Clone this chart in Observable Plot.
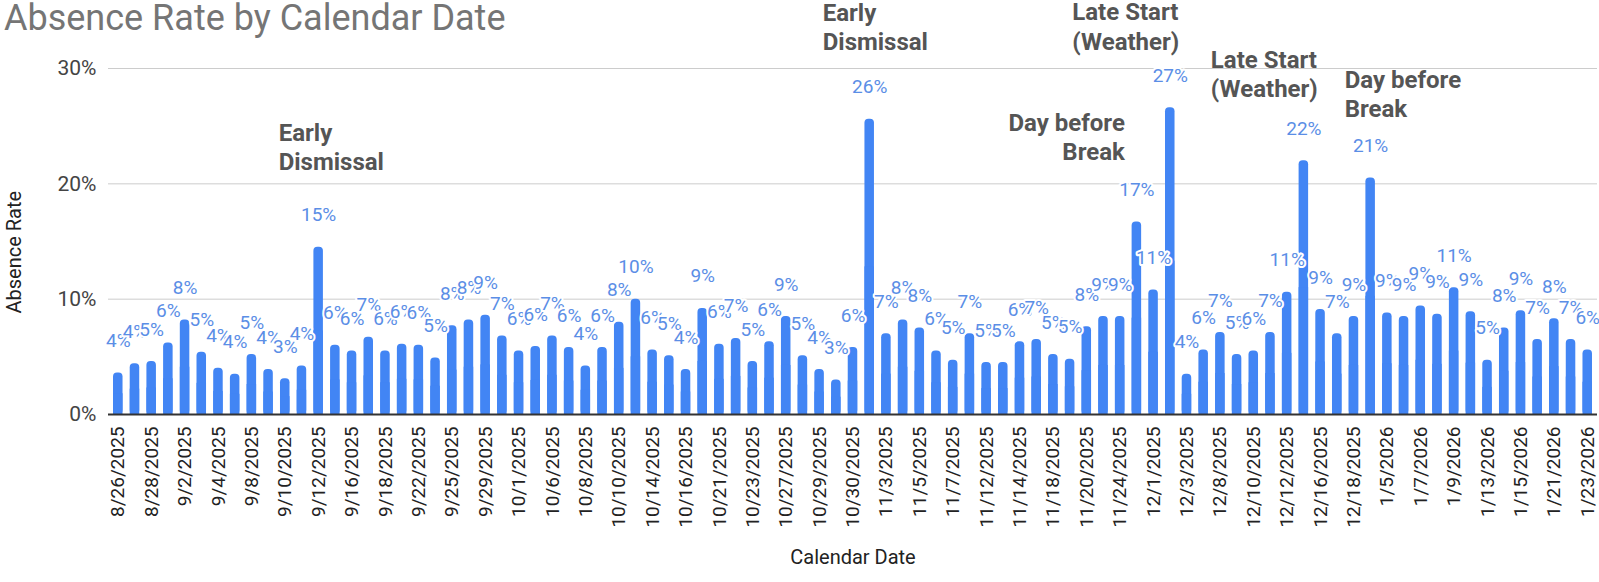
<!DOCTYPE html>
<html>
<head>
<meta charset="utf-8">
<script src="https://cdn.jsdelivr.net/npm/d3@7"></script>
<script src="https://cdn.jsdelivr.net/npm/@observablehq/plot@0.6"></script>
<style>
  body { margin: 0; background: #ffffff; }
  #wrap { position: relative; width: 1599px; height: 582px; font-family: Roboto, Arial, sans-serif; }
  #title { position: absolute; left: 4px; top: -1px; font-size: 36px; line-height: 38px; color: #757575; white-space: nowrap; }
  #wrap svg { display: block; }
</style>
</head>
<body>
<div id="wrap"><div id="title">Absence Rate by Calendar Date</div></div>
<script>
// ---- data ----
const dates = [
  "8/26/2025","8/27/2025","8/28/2025","8/29/2025","9/2/2025","9/3/2025","9/4/2025","9/5/2025",
  "9/8/2025","9/9/2025","9/10/2025","9/11/2025","9/12/2025","9/15/2025","9/16/2025","9/17/2025",
  "9/18/2025","9/19/2025","9/22/2025","9/23/2025","9/25/2025","9/26/2025","9/29/2025","9/30/2025",
  "10/1/2025","10/2/2025","10/6/2025","10/7/2025","10/8/2025","10/9/2025","10/10/2025","10/13/2025",
  "10/14/2025","10/15/2025","10/16/2025","10/17/2025","10/21/2025","10/22/2025","10/23/2025","10/24/2025",
  "10/27/2025","10/28/2025","10/29/2025","10/29/2025","10/30/2025","10/31/2025","11/3/2025","11/4/2025",
  "11/5/2025","11/6/2025","11/7/2025","11/10/2025","11/12/2025","11/13/2025","11/14/2025","11/17/2025",
  "11/18/2025","11/19/2025","11/20/2025","11/21/2025","11/24/2025","11/25/2025","12/1/2025","12/2/2025",
  "12/3/2025","12/4/2025","12/8/2025","12/9/2025","12/10/2025","12/11/2025","12/12/2025","12/15/2025",
  "12/16/2025","12/17/2025","12/18/2025","12/19/2025","1/5/2026","1/6/2026","1/7/2026","1/8/2026",
  "1/9/2026","1/12/2026","1/13/2026","1/14/2026","1/15/2026","1/16/2026","1/21/2026","1/22/2026",
  "1/23/2026"
];
// absence rate, percent
const absenceRate = [
  3.6,4.4,4.6,6.2,8.2,5.4,4.0,3.5,5.2,3.9,
  3.1,4.2,14.5,6.0,5.5,6.7,5.5,6.1,6.0,4.9,
  7.7,8.2,8.6,6.8,5.5,5.9,6.8,5.8,4.2,5.8,
  8.0,10.0,5.6,5.1,3.9,9.2,6.1,6.6,4.6,6.3,
  8.5,5.1,3.9,3.0,5.8,25.6,7.0,8.2,7.5,5.5,
  4.7,7.0,4.5,4.5,6.3,6.5,5.2,4.8,7.6,8.5,
  8.5,16.7,10.8,26.6,3.5,5.6,7.1,5.2,5.5,7.1,
  10.6,22.0,9.1,7.0,8.5,20.5,8.8,8.5,9.4,8.7,
  11.0,8.9,4.7,7.5,9.0,6.5,8.3,6.5,5.6
];
const yTicks = [0, 10, 20, 30];
const annotationDates = ["9/12/2025","10/31/2025","11/25/2025","12/2/2025","12/15/2025","12/19/2025"];
const annotationTexts = ["Early\nDismissal","Early\nDismissal","Day before\nBreak","Late Start\n(Weather)","Late Start\n(Weather)","Day before\nBreak"];

// ---- layout / style (not data) ----
const annotationLayout = [
  {textAnchor: "start", dx: -40, dy: -101},
  {textAnchor: "start", dx: -47, dy: -93},
  {textAnchor: "end",   dx: -12, dy: -86},
  {textAnchor: "start", dx: -98, dy: -82},
  {textAnchor: "start", dx: -93, dy: -88},
  {textAnchor: "start", dx: -26, dy: -85}
];

const n = dates.length;
const rows = absenceRate.map((v, i) => ({i, date: dates[i], v}));
const barColor = "#4285f4";
const labelColor = "#5b8ee6";

const annotationMarks = annotationDates.map((dt, k) => {
  const idx = dates.indexOf(dt);
  return Plot.text([idx], {
    x: d => d,
    y: d => absenceRate[d],
    text: () => annotationTexts[k],
    ...annotationLayout[k],
    lineAnchor: "middle",
    lineHeight: 1.22,
    fontSize: 24,
    fontWeight: "bold",
    fill: "#555555"
  });
});

const chart = Plot.plot({
  width: 1599,
  height: 582,
  marginLeft: 108,
  marginRight: 2,
  marginTop: 68,
  marginBottom: 168,
  style: {fontFamily: "Roboto, Arial, sans-serif", fontSize: "20px", background: "transparent", overflow: "visible"},
  x: {type: "band", domain: d3.range(n), paddingInner: 0.43, paddingOuter: 0.3, axis: null, label: null},
  y: {domain: [0, 30], axis: null, label: null},
  marks: [
    Plot.ruleY(yTicks.filter(d => d > 0), {stroke: "#cccccc", strokeWidth: 1}),
    Plot.axisY({ticks: yTicks, tickFormat: d => d + "%", tickSize: 0, tickPadding: 12, label: null, fill: "#444444", fontSize: 21}),
    Plot.axisX({ticks: d3.range(0, n, 2), tickFormat: i => dates[i], tickRotate: -90, tickSize: 0, tickPadding: 12, label: null, fill: "#222222", fontSize: 19}),
    Plot.barY(rows, {x: "i", y: "v", fill: barColor, rx: 4}),
    Plot.barY(rows, {x: "i", y1: 0, y2: d => d.v / 2, fill: barColor}),
    Plot.ruleY([0], {stroke: "#333333", strokeWidth: 2}),
    Plot.text(rows, {x: "i", y: "v", text: d => Math.round(d.v) + "%", dy: -32, lineAnchor: "middle",
      fill: labelColor, stroke: "white", strokeWidth: 4, fontSize: 19}),
    ...annotationMarks,
    Plot.text(["Calendar Date"], {text: d => d, frameAnchor: "bottom", dy: 143, lineAnchor: "middle", fontSize: 20, fill: "#222222"}),
    Plot.text(["Absence Rate"], {text: d => d, frameAnchor: "left", dx: -94, dy: 72, rotate: -90, lineAnchor: "middle", fontSize: 20, fill: "#222222"})
  ]
});
document.getElementById("wrap").appendChild(chart);
</script>
</body>
</html>
